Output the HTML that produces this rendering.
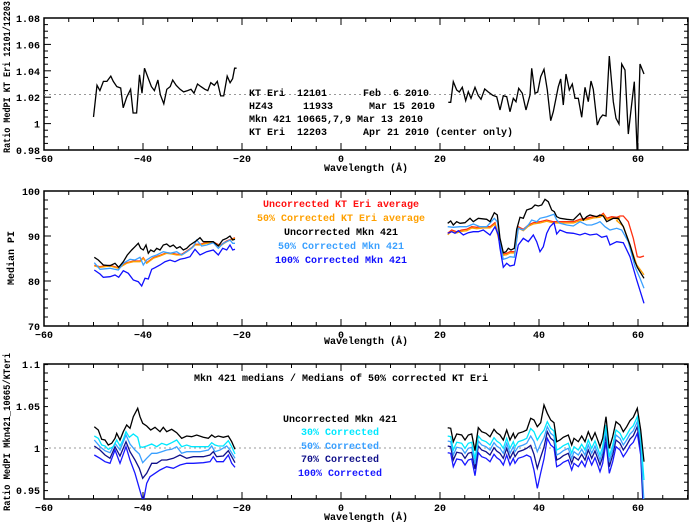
<!DOCTYPE html>
<html><head><meta charset="utf-8"><style>
body{margin:0;background:#fff}
svg text{font-family:"Liberation Mono",monospace;font-size:10px;font-weight:bold;fill:#000;white-space:pre}
</style></head><body>
<svg id="s" width="689" height="526" xmlns="http://www.w3.org/2000/svg" xml:space="preserve">
<defs>
<clipPath id="c1"><rect x="44" y="18" width="644" height="132"/></clipPath>
<clipPath id="c2"><rect x="44" y="191" width="644" height="135"/></clipPath>
<clipPath id="c3"><rect x="44" y="364" width="644" height="135"/></clipPath>
</defs>
<g id="g"></g>
<text x="249" y="96">KT Eri  12101      Feb  6 2010</text>
<text x="249" y="109">HZ43     11933      Mar 15 2010</text>
<text x="249" y="122">Mkn 421 10665,7,9 Mar 13 2010</text>
<text x="249" y="135">KT Eri  12203      Apr 21 2010 (center only)</text>
<g text-anchor="middle">
<text x="341" y="207" style="fill:#ff1010">Uncorrected KT Eri average</text>
<text x="341" y="221" style="fill:#ffa000">50% Corrected KT Eri average</text>
<text x="341" y="235">Uncorrected Mkn 421</text>
<text x="341" y="249" style="fill:#3aa0ff">50% Corrected Mkn 421</text>
<text x="341" y="263" style="fill:#1010ff">100% Corrected Mkn 421</text>
<text x="341" y="381">Mkn 421 medians / Medians of 50% corrected KT Eri</text>
<text x="340" y="422">Uncorrected Mkn 421</text>
<text x="340" y="435" style="fill:#00e8ff">30% Corrected</text>
<text x="340" y="449" style="fill:#3aa0ff">50% Corrected</text>
<text x="340" y="462" style="fill:#10108a">70% Corrected</text>
<text x="340" y="476" style="fill:#1818ff">100% Corrected</text>
<text x="366" y="171">Wavelength (Å)</text>
<text x="366" y="344">Wavelength (Å)</text>
<text x="366" y="520">Wavelength (Å)</text>
<text transform="translate(10,77) rotate(-90)" textLength="152" lengthAdjust="spacingAndGlyphs">Ratio MedPI KT Eri 12101/12203</text>
<text transform="translate(14,258) rotate(-90)">Median PI</text>
<text transform="translate(10,432) rotate(-90)" textLength="158" lengthAdjust="spacingAndGlyphs">Ratio MedPI Mkn421_10665/KTeri</text>
</g>
</svg>
<script>
var g=document.getElementById('g'),NS='http://www.w3.org/2000/svg';
function el(t,a,p){var e=document.createElementNS(NS,t);for(var k in a)e.setAttribute(k,a[k]);(p||g).appendChild(e);return e;}
function X(w){return 44+(w+60)*4.95;}
function axes(top,bot,ymin,ymax,maj,mnr,labs){
 el('rect',{x:44,y:top,width:644,height:bot-top,fill:'none',stroke:'#000','stroke-width':1.5});
 for(var w=-60;w<=70;w+=5){var x=X(w),L=(w%20==0)?7:4;
  el('line',{x1:x,y1:bot,x2:x,y2:bot-L,stroke:'#000'});el('line',{x1:x,y1:top,x2:x,y2:top+L,stroke:'#000'});
  if(w%20==0&&w<=60){var t=el('text',{x:x,y:bot+12,'text-anchor':'middle'});t.textContent=(w<0?'\u2212'+(-w):w);}}
 function Y(v){return bot-(v-ymin)/(ymax-ymin)*(bot-top);}
 var n=Math.round((ymax-ymin)/mnr);
 for(var i=0;i<=n+1;i++){var v=ymin+i*mnr;var y=Y(v);if(y<top-0.5)break;
  var isM=Math.abs(v/maj-Math.round(v/maj))<1e-6,L=isM?7:4;
  el('line',{x1:44,y1:y,x2:44+L,y2:y,stroke:'#000'});el('line',{x1:688,y1:y,x2:688-L,y2:y,stroke:'#000'});}
 labs.forEach(function(l){var t=el('text',{x:40,y:Y(l[0])+4,'text-anchor':'end'});t.textContent=l[1];});
 return Y;}
var Y1=axes(18,150,0.98,1.08,0.02,0.005,[[0.98,'0.98'],[1,'1'],[1.02,'1.02'],[1.04,'1.04'],[1.06,'1.06'],[1.08,'1.08']]);
var Y2=axes(191,326,70,100,10,2,[[70,'70'],[80,'80'],[90,'90'],[100,'100']]);
var Y3=axes(364,499,0.9393,1.1,0.05,0.01,[[0.95,'0.95'],[1,'1'],[1.05,'1.05'],[1.1,'1.1']]);
function dot(y){el('line',{x1:44,y1:y,x2:688,y2:y,stroke:'#999','stroke-dasharray':'2,3'});}
dot(Y1(1.022));dot(Y3(1));
function pl(pts,ox,oy,col,clip,dy){dy=dy||0;var s=pts.map(function(p){return (ox+p[0]/3).toFixed(1)+','+(oy+(p[1]+dy)/3).toFixed(1);}).join(' ');
 el('polyline',{points:s,fill:'none',stroke:col,'stroke-width':1.3,'clip-path':'url(#'+clip+')'});}
var l1=[[-50,1.005],[-49.3,1.029],[-48.7,1.025],[-48,1.032],[-47.3,1.032],[-46.5,1.036],[-46,1.032],[-45.3,1.028],[-44.5,1.027],[-44,1.012],[-43.3,1.02],[-42.5,1.026],[-42,1.008],[-41.3,1.008],[-40.7,1.037],[-40.2,1.023],[-39.7,1.042],[-39,1.035],[-38.3,1.028],[-37.7,1.025],[-37,1.033],[-36.5,1.022],[-35.8,1.015],[-35.2,1.026],[-34.5,1.028],[-34,1.033],[-33.3,1.029],[-32.5,1.026],[-31.8,1.024],[-31,1.025],[-30.3,1.026],[-29.7,1.023],[-29,1.03],[-28.3,1.028],[-27.5,1.026],[-26.9,1.025],[-26.3,1.031],[-25.6,1.029],[-25,1.032],[-24.3,1.021],[-23.7,1.021],[-23,1.036],[-22.4,1.031],[-21.9,1.034],[-21.5,1.042],[-21.1,1.042]];
el('polyline',{points:l1.map(function(p){return X(p[0]).toFixed(1)+','+Y1(p[1]).toFixed(1)}).join(' '),fill:'none',stroke:'#000','stroke-width':1.3});
pl([[145,217],[152,217],[160,155],[170,180],[178,186],[187,172],[197,212],[205,185],[213,205],[225,172],[235,197],[243,208],[254,177],[265,186],[278,196],[290,200],[300,240],[310,197],[320,200],[330,245],[340,205],[348,215],[356,175],[367,190],[378,240],[390,195],[395,115],[405,190],[413,186],[422,140],[432,118],[442,180],[452,272],[460,245],[475,170],[482,147],[490,225],[498,132],[508,180],[517,162],[525,205],[535,205],[545,262],[555,172],[565,215],[573,153],[580,178],[592,285],[600,265],[608,255],[618,258],[628,78],[640,215],[648,265],[657,282],[665,102],[675,120],[685,312],[693,240],[703,155],[712,375],[720,102],[732,132]],400,30,'#000','c1');
pl([[283,258],[300,262],[330,258],[355,265],[380,250],[400,245],[420,245],[430,235],[440,250],[460,235],[480,228],[500,220],[515,222],[530,225],[545,225],[560,215],[575,205],[585,195],[600,195],[620,190],[640,188],[660,198],[680,185],[705,175]],0,180,'#ff3010','c2',-2);
pl([[283,258],[300,262],[330,258],[355,265],[380,250],[400,245],[420,245],[430,235],[440,250],[460,235],[480,228],[500,220],[515,222],[530,225],[545,225],[560,215],[575,205],[585,195],[600,195],[620,190],[640,188],[660,198],[680,185],[705,175]],0,180,'#ffa000','c2');
pl([[283,248],[300,268],[330,265],[355,270],[370,250],[390,238],[405,240],[420,232],[430,255],[440,240],[455,230],[470,225],[490,215],[510,220],[530,215],[545,225],[565,212],[580,200],[590,180],[605,198],[620,195],[640,188],[655,205],[670,190],[690,180],[698,190],[705,190]],0,180,'#3aa0ff','c2');
pl([[283,270],[300,282],[310,292],[330,290],[345,285],[356,292],[370,272],[385,280],[400,300],[415,305],[425,318],[435,295],[445,297],[455,268],[465,263],[480,255],[495,245],[510,240],[525,245],[540,238],[555,235],[570,230],[585,208],[600,225],[620,215],[640,210],[655,225],[668,205],[680,210],[690,195],[698,210],[705,208]],0,180,'#1010ff','c2');
pl([[283,232],[295,240],[310,255],[330,257],[345,250],[356,262],[370,245],[382,225],[395,210],[405,200],[415,190],[422,205],[430,210],[438,195],[445,220],[452,210],[462,215],[470,205],[480,210],[490,195],[500,192],[510,200],[520,195],[530,205],[540,200],[550,210],[560,205],[570,195],[585,185],[600,173],[610,185],[625,185],[640,185],[655,198],[668,180],[680,175],[690,168],[698,180],[705,178]],0,180,'#000','c2');
var body=[[143,160],[155,150],[170,155],[185,150],[200,148],[215,140],[230,142],[250,140],[270,140],[285,128],[300,190],[310,222],[320,220],[330,215],[345,215],[355,140],[370,148],[385,135],[400,128],[420,125],[440,120],[460,125],[475,125],[500,125],[520,125],[540,118],[560,115],[580,110],[600,108],[610,100],[620,115],[635,110],[650,112],[660,108]];
pl(body.concat([[670,108],[685,125],[700,175],[712,230],[720,232],[732,228]]),400,180,'#ff3010','c2');
pl(body.concat([[650,118],[670,135],[690,190],[710,250],[732,280]]),400,180,'#ffa000','c2',4);
pl([[143,140],[160,142],[180,140],[200,140],[220,132],[240,140],[260,140],[283,115],[292,125],[300,190],[310,238],[320,235],[330,230],[343,232],[355,145],[370,150],[385,135],[395,120],[410,125],[420,115],[440,110],[455,105],[462,103],[470,120],[480,130],[500,135],[520,138],[540,125],[560,135],[575,135],[590,130],[600,125],[615,140],[630,150],[650,145],[665,150],[685,185],[705,260],[720,295],[732,325]],400,180,'#3aa0ff','c2');
pl([[143,160],[155,155],[165,160],[175,152],[190,165],[205,158],[220,155],[235,155],[250,150],[270,165],[285,140],[295,165],[300,205],[310,262],[320,250],[330,258],[343,255],[355,195],[370,175],[385,185],[400,165],[410,185],[420,215],[430,200],[440,160],[450,140],[462,128],[470,162],[480,150],[500,158],[520,160],[540,165],[555,160],[570,165],[590,162],[605,172],[620,168],[630,195],[650,185],[670,188],[690,230],[710,300],[732,370]],400,180,'#1010ff','c2');
pl([[143,130],[152,123],[160,135],[170,125],[180,130],[195,128],[210,115],[220,125],[235,115],[260,118],[270,125],[283,98],[292,105],[300,175],[310,218],[318,215],[325,205],[333,210],[343,205],[350,148],[360,112],[370,115],[380,90],[395,85],[405,75],[415,78],[425,75],[435,58],[445,65],[455,90],[463,95],[470,110],[480,115],[500,118],[520,120],[540,100],[550,120],[560,110],[570,105],[590,110],[600,105],[610,108],[620,125],[630,120],[640,115],[655,115],[670,140],[690,195],[705,245],[712,262],[732,295]],400,180,'#000','c2');
pl([[283,315],[300,325],[315,335],[330,340],[345,300],[360,340],[378,290],[390,330],[405,370],[418,415],[425,440],[430,455],[440,400],[450,380],[465,370],[480,360],[500,350],[520,355],[540,345],[560,340],[580,340],[610,338],[630,335],[640,320],[650,335],[670,335],[685,315],[695,340],[705,352]],0,350,'#1818ff','c3');
pl([[283,288],[300,300],[315,315],[330,325],[345,290],[360,318],[378,275],[390,305],[405,330],[418,355],[428,385],[440,370],[455,340],[470,340],[485,330],[500,330],[520,325],[540,315],[560,325],[580,320],[610,320],[630,315],[640,305],[650,320],[670,318],[685,302],[695,320],[705,338]],0,350,'#10108a','c3');
pl([[283,270],[300,290],[315,302],[330,308],[345,280],[360,300],[378,255],[390,282],[405,300],[418,312],[428,338],[440,325],[455,310],[470,310],[485,305],[500,300],[515,298],[530,290],[545,310],[560,305],[575,305],[600,305],[625,300],[635,288],[645,305],[660,300],[680,288],[690,300],[705,325]],0,350,'#3aa0ff','c3');
pl([[283,258],[295,265],[305,285],[315,288],[325,298],[340,290],[350,270],[360,288],[370,268],[378,245],[388,262],[400,252],[413,262],[420,290],[428,292],[440,288],[455,282],[470,290],[485,280],[500,285],[515,278],[530,270],[545,290],[560,285],[575,290],[590,290],[610,290],[625,290],[635,278],[645,285],[655,288],[670,288],[685,272],[695,290],[705,312]],0,350,'#00e8ff','c3');
pl([[283,230],[295,240],[305,268],[315,270],[325,285],[335,280],[345,265],[350,250],[360,270],[370,245],[380,225],[390,235],[400,200],[413,175],[420,200],[428,220],[440,228],[452,240],[465,232],[480,245],[490,232],[500,245],[515,238],[530,248],[545,265],[560,258],[575,260],[590,255],[610,262],[625,265],[635,255],[645,262],[655,258],[670,262],[685,258],[695,275],[705,298]],0,350,'#000','c3');
var bk=[[143,203],[152,205],[160,245],[170,222],[185,225],[195,240],[205,225],[215,222],[225,272],[235,203],[245,215],[258,220],[270,230],[282,208],[290,218],[300,225],[310,240],[320,210],[330,240],[340,220],[345,235],[355,220],[370,215],[380,210],[392,175],[402,180],[412,200],[422,188],[432,135],[442,160],[452,180],[462,188],[470,245],[480,240],[490,232],[505,225],[515,255],[522,235],[535,245],[545,228],[555,245],[565,215],[575,240],[585,218],[595,245],[600,260],[608,235],[618,170],[628,265],[638,230],[648,185],[660,195],[670,215],[680,200],[690,182],[700,172],[712,145],[722,210],[732,305]];
function der(off,dip,endY,col){var p=bk.map(function(q){var x=q[0],y=q[1]+off;
 if(x>=380&&x<=440){var d=1-Math.abs(x-412)/32;y+=dip*Math.max(0,d);} if(x==432)y+=45;
 if(x==732)y=endY; return [x,y];});pl(p,400,360,col,'c3');}
der(75,110,500,'#1818ff');der(55,70,470,'#10108a');der(40,35,430,'#3aa0ff');der(25,15,360,'#00e8ff');
pl(bk,400,360,'#000','c3');
</script>
</body></html>
